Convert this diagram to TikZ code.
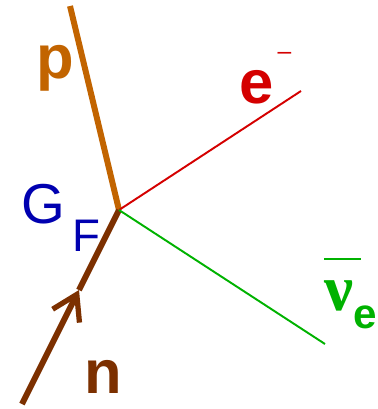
\documentclass[tikz,border=0pt]{standalone}
\usepackage{fontspec}
\setmainfont{Liberation Sans}
\newfontfamily\nufont{Liberation Serif}
\usetikzlibrary{arrows.meta, calc}

\definecolor{protonc}{RGB}{194,100,0}
\definecolor{neutronc}{RGB}{124,48,0}
\definecolor{electronc}{RGB}{212,0,0}
\definecolor{nuc}{RGB}{0,178,0}
\definecolor{couplingc}{RGB}{0,0,176}

\begin{document}
\begin{tikzpicture}[
    x=0.02cm, y=-0.02cm,
    heavy/.style={line width=3.4pt},
    light/.style={line width=1.1pt},
    label/.style={inner sep=0pt, anchor=base west, font=\fontsize{35}{40}\selectfont\bfseries},
    arrow/.style={-{Straight Barb[length=0.48cm, width=0.6cm, line width=3pt]}}
]
\useasboundingbox (0,0) rectangle (378,409);

\coordinate (vertex) at (119,210);
\coordinate (p_end) at (70,6);
\coordinate (n_start) at (22,404);
\coordinate (n_mid) at (79,290);
\coordinate (e_end) at (301,91);
\coordinate (nu_end) at (325,344);

\node (p_lbl) [label, text=protonc] at (36,78) {p};
\node (n_lbl) [label, text=neutronc] at (84,393) {n};
\node (e_lbl) [label, text=electronc] at (239,103) {e\raisebox{0.7em}{\fontsize{14}{14}\mdseries\,–}};
\node (gf_lbl) [label, text=couplingc, font=\fontsize{32}{36}\selectfont] at (21,223) {G\raisebox{-0.5em}{\fontsize{26}{30}\selectfont\,F}};
\node (nu_lbl) [label, text=nuc] at (324,310) {\rlap{\rule[1cm]{0.74cm}{0.035cm}}{\nufont\fontsize{37}{42}\selectfont ν}\raisebox{-0.3em}{\fontsize{24}{28}\selectfont e}};

\draw [heavy, protonc] (vertex) -- (p_end);
\draw [heavy, neutronc, arrow] (n_start) -- (n_mid);
\draw [heavy, neutronc] (n_mid) -- (vertex);
\draw [light, electronc] (vertex) -- (e_end);
\draw [light, nuc] (vertex) -- (nu_end);

\end{tikzpicture}
\end{document}
